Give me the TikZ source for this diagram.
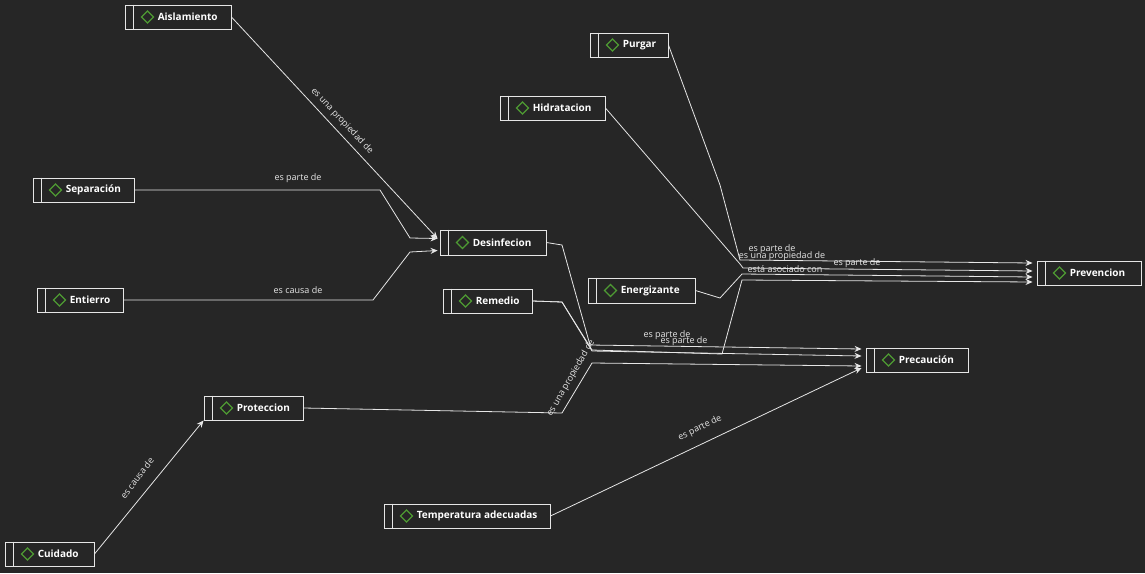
\documentclass[tikz,border=0pt]{standalone}
\usepackage{fontspec}
\setmainfont{Open Sans}
\usetikzlibrary{calc,arrows.meta}
\definecolor{bg}{HTML}{262626}
\definecolor{fg}{HTML}{E6E6E6}
\definecolor{dg}{HTML}{4E9A33}
\tikzset{
 box/.style={draw=fg,line width=0.9pt,rectangle,inner sep=0pt},
 edge/.style={draw=fg,line width=0.8pt},
 arr/.style={edge,-{Stealth[length=7pt,width=6pt]}},
 lab/.style={text=fg,font=\fontsize{9}{10}\selectfont,inner sep=0pt},
 ntext/.style={text=white,font=\fontsize{10}{11}\selectfont\bfseries,anchor=west,inner sep=0pt}
}
\newcommand{\cnode}[6]{%
 \node[box,minimum width={(#4-#2)*1pt},minimum height={(#5-#3)*1pt}] (#1) at ({(#2+#4)/2},{(#3+#5)/2}) {};
 \draw[fg,line width=0.9pt] ($(#1.north west)+(9,0)$) -- ($(#1.south west)+(9,0)$);
 \draw[dg,line width=1.3pt] ($(#1.west)+(17,0)$) -- ($(#1.west)+(23,-6)$) -- ($(#1.west)+(29,0)$) -- ($(#1.west)+(23,6)$) -- cycle;
 \node[ntext] (#1t) at ($(#1.west)+(33,0)$) {#6};
}
\begin{document}
\begin{tikzpicture}[x=1pt,y=-1pt]
\fill[bg] (0,0) rectangle (1145,573);
\useasboundingbox (0,0) rectangle (1145,573);
\cnode{ais}{125}{5}{231}{29}{Aislamiento}
\cnode{pur}{590}{33}{668}{57}{Purgar}
\cnode{hid}{500}{96}{605}{120}{Hidratacion}
\cnode{sep}{33}{178}{134}{202}{Separación}
\cnode{des}{440}{230}{546}{255}{Desinfecion}
\cnode{ent}{37}{288}{123}{312}{Entierro}
\cnode{rem}{443}{289}{532}{313}{Remedio}
\cnode{ene}{588}{278}{695}{303}{Energizante}
\cnode{pre}{1037}{261}{1141}{285}{Prevencion}
\cnode{prc}{866}{348}{968}{372}{Precaución}
\cnode{pro}{204}{396}{303}{420}{Proteccion}
\cnode{tem}{384}{504}{550}{528}{Temperatura adecuadas}
\cnode{cui}{5}{542}{94}{566}{Cuidado}
% left cluster
\draw[arr] (ais.east) -- ($(des.west)+(-2,-4)$);
\node[lab,rotate=-47] at (342,121) {es una propiedad de};
\draw[arr] (sep.east) -- (380,190) -- (410,238) -- ($(des.west)+(-2,-4)$);
\node[lab] at (298,178) {es parte de};
\draw[arr] (ent.east) -- (373,300) -- (410,252) -- ($(des.west)+(-2,8)$);
\node[lab] at (298,290) {es causa de};
\draw[arr] (cui.east) -- (pro.south west);
\node[lab,rotate=53] at (137,478) {es causa de};
% Prevencion
\draw[arr] (pur.east) -- (720,185) -- (740,260) -- ($(pre.west)+(-4,-10)$);
\node[lab] at (772,249) {es parte de};
\draw[arr] (hid.east) -- (740,264) -- (743,268) -- ($(pre.west)+(-4,-2)$);
\node[lab] at (782,256) {es una propiedad de};
\draw[arr] (ene.east) -- (720,298) -- (742,274) -- ($(pre.west)+(-4,4)$);
\node[lab] at (785,269) {está asociado con};
\draw[arr] (rem.east) -- (562,302) -- (592,350) -- (722,354) -- (742,280) -- ($(pre.west)+(-4,9)$);
\node[lab] at (857,263) {es parte de};
% Precaucion
\draw[arr] (des.east) -- (562,245) -- (590,345) -- ($(prc.west)+(-4,-11)$);
\node[lab] at (667,335) {es parte de};
\draw[arr] (rem.east) -- (562,302) -- (592,351) -- ($(prc.west)+(-4,-4)$);
\node[lab] at (684,341) {es parte de};
\draw[arr] (pro.east) -- (562,413) -- (592,363) -- ($(prc.west)+(-4,6)$);
\node[lab,rotate=60] at (571,378) {es una propiedad de};
\draw[arr] (tem.east) -- ($(prc.west)+(-4,8)$);
\node[lab,rotate=26] at (700,428) {es parte de};
\end{tikzpicture}
\end{document}
